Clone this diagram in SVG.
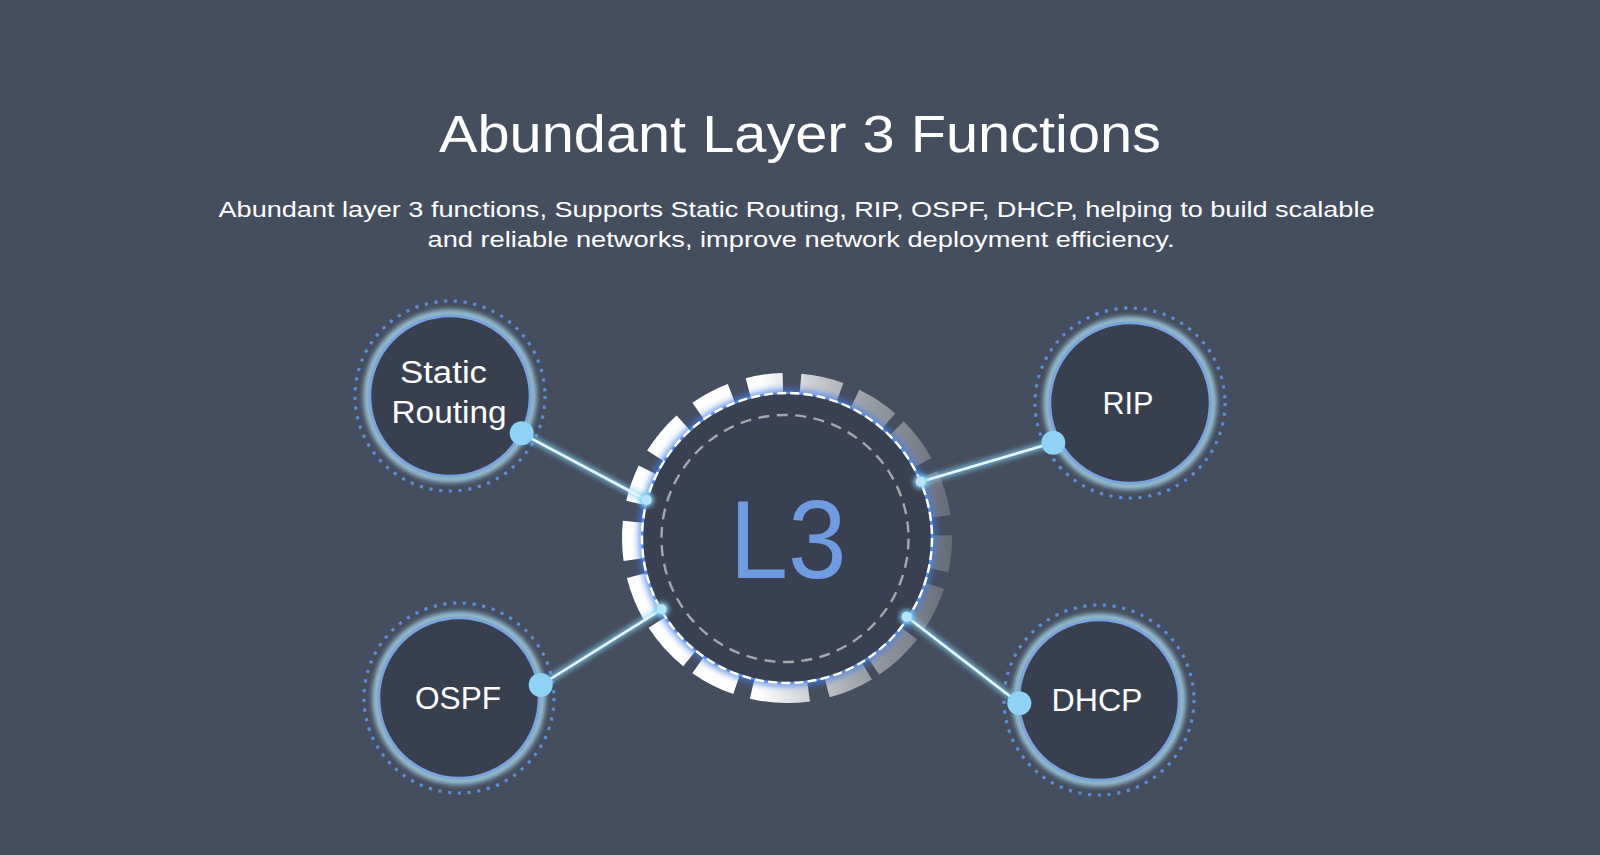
<svg xmlns="http://www.w3.org/2000/svg" width="1600" height="855" viewBox="0 0 1600 855">
<defs>
<style>
.ttl{font-family:"Liberation Sans",Arial,sans-serif;fill:#ffffff;text-anchor:middle}
.lbl{font-family:"Liberation Sans",Arial,sans-serif;fill:#ffffff;font-size:31px;text-anchor:middle}
.disc{fill:#383f4f;stroke:#7aa3e2;stroke-width:2.5}
.halo{fill:none;stroke:#ace0f2;stroke-width:7;opacity:0.85;filter:url(#blur3)}
.dots{fill:none;stroke:#5b8dd6;stroke-width:3.2;stroke-dasharray:3.2 6.6}
.seg{fill:none;stroke:url(#segGrad);stroke-width:20}
.wire{stroke:#e6f6ff;stroke-width:2.6;fill:none}
.wireglow{stroke:#7fd0f4;stroke-width:7;fill:none;opacity:0.7;filter:url(#blur3)}
.bigdot{fill:#8fd2f6}
.smalldot{fill:#b8e4f8}
</style>
<filter id="blur3" x="-50%" y="-50%" width="200%" height="200%"><feGaussianBlur stdDeviation="2.5"/></filter>
<filter id="blur4" x="-50%" y="-50%" width="200%" height="200%"><feGaussianBlur stdDeviation="3.5"/></filter>
<linearGradient id="segGrad" gradientUnits="userSpaceOnUse" x1="620" y1="0" x2="950" y2="0">
<stop offset="0" stop-color="#ffffff"/>
<stop offset="0.42" stop-color="#ffffff"/>
<stop offset="0.55" stop-color="#d6d8dc"/>
<stop offset="0.73" stop-color="#9ea2a9"/>
<stop offset="1" stop-color="#666c78"/>
</linearGradient>
</defs>
<rect width="1600" height="855" fill="#454e5f"/>

<g id="header">
<text class="ttl" x="800" y="151.5" font-size="51" textLength="722" lengthAdjust="spacingAndGlyphs">Abundant Layer 3 Functions</text>
<text class="ttl" x="796.5" y="216.5" font-size="21.5" textLength="1156" lengthAdjust="spacingAndGlyphs">Abundant layer 3 functions, Supports Static Routing, RIP, OSPF, DHCP, helping to build scalable</text>
<text class="ttl" x="801" y="247" font-size="21.5" textLength="747" lengthAdjust="spacingAndGlyphs">and reliable networks, improve network deployment efficiency.</text>
</g>

<g id="node-l3">
<g id="l3-segments">
<path class="seg" d="M748.2 387.9 A155 155 0 0 1 782.9 383"/>
<path class="seg" d="M800.5 383.6 A155 155 0 0 1 840 392.3"/>
<path class="seg" d="M855 398.7 A155 155 0 0 1 888.7 421"/>
<path class="seg" d="M896.6 428.4 A155 155 0 0 1 922.6 462.9"/>
<path class="seg" d="M928.6 475 A155 155 0 0 1 940.5 516.4"/>
<path class="seg" d="M942 535.3 A155 155 0 0 1 938.6 570.2"/>
<path class="seg" d="M934.4 585.9 A155 155 0 0 1 915.5 624.7"/>
<path class="seg" d="M909.1 633.4 A155 155 0 0 1 873.7 666.5"/>
<path class="seg" d="M866.8 670.9 A155 155 0 0 1 827.1 687.7"/>
<path class="seg" d="M808.6 691.5 A155 155 0 0 1 752.1 689"/>
<path class="seg" d="M736.5 684.6 A155 155 0 0 1 698.1 665"/>
<path class="seg" d="M689.5 658.5 A155 155 0 0 1 657 622.4"/>
<path class="seg" d="M652.8 615.5 A155 155 0 0 1 636.6 575.5"/>
<path class="seg" d="M633.5 559.6 A155 155 0 0 1 632.9 521.8"/>
<path class="seg" d="M636 503.1 A155 155 0 0 1 647.7 470"/>
<path class="seg" d="M655.6 455.9 A155 155 0 0 1 683.3 422.8"/>
<path class="seg" d="M698.1 411 A155 155 0 0 1 731.4 393.3"/>
</g>
<circle cx="787" cy="538" r="145" fill="none" stroke="#3f7fe6" stroke-width="6" filter="url(#blur4)"/>
<circle cx="787" cy="538" r="145" fill="#394051" stroke="#5d8fe4" stroke-width="2.2"/>
<circle cx="787" cy="538" r="145" fill="none" stroke="#ffffff" stroke-width="2.4" stroke-dasharray="9 4.2"/>
<circle cx="785" cy="538.5" r="123.5" fill="none" stroke="#a3a7ae" stroke-width="2.4" stroke-dasharray="11 7.5"/>
<text x="788" y="578" font-family="Liberation Sans, Arial, sans-serif" font-size="112" fill="#6f9be0" text-anchor="middle" textLength="117" lengthAdjust="spacingAndGlyphs">L3</text>
</g>

<g id="node-static-routing">
<circle class="dots" cx="450" cy="396" r="95"/>
<circle class="halo" cx="450" cy="396" r="83"/>
<circle class="disc" cx="450" cy="396" r="80"/>
<text class="lbl" x="443.5" y="383" textLength="87" lengthAdjust="spacingAndGlyphs">Static</text>
<text class="lbl" x="449" y="423" textLength="115" lengthAdjust="spacingAndGlyphs">Routing</text>
</g>

<g id="node-rip">
<circle class="dots" cx="1130" cy="403" r="95"/>
<circle class="halo" cx="1130" cy="403" r="83"/>
<circle class="disc" cx="1130" cy="403" r="80"/>
<text class="lbl" x="1128" y="414" textLength="51" lengthAdjust="spacingAndGlyphs">RIP</text>
</g>

<g id="node-ospf">
<circle class="dots" cx="459" cy="698" r="95"/>
<circle class="halo" cx="459" cy="698" r="83"/>
<circle class="disc" cx="459" cy="698" r="80"/>
<text class="lbl" x="458" y="709" textLength="86" lengthAdjust="spacingAndGlyphs">OSPF</text>
</g>

<g id="node-dhcp">
<circle class="dots" cx="1099" cy="700" r="95"/>
<circle class="halo" cx="1099" cy="700" r="83"/>
<circle class="disc" cx="1099" cy="700" r="80"/>
<text class="lbl" x="1097" y="711" textLength="91" lengthAdjust="spacingAndGlyphs">DHCP</text>
</g>

<g id="connectors">
<line class="wireglow" x1="521.7" y1="433.3" x2="646.7" y2="500"/>
<line class="wireglow" x1="1053.3" y1="442.7" x2="920.7" y2="481.7"/>
<line class="wireglow" x1="540.7" y1="685" x2="661.7" y2="609.3"/>
<line class="wireglow" x1="1019.3" y1="703.3" x2="906.7" y2="616.7"/>
<line class="wire" x1="521.7" y1="433.3" x2="646.7" y2="500"/>
<line class="wire" x1="1053.3" y1="442.7" x2="920.7" y2="481.7"/>
<line class="wire" x1="540.7" y1="685" x2="661.7" y2="609.3"/>
<line class="wire" x1="1019.3" y1="703.3" x2="906.7" y2="616.7"/>
<circle class="bigdot" cx="521.7" cy="433.3" r="12"/>
<circle class="bigdot" cx="1053.3" cy="442.7" r="12"/>
<circle class="bigdot" cx="540.7" cy="685" r="12"/>
<circle class="bigdot" cx="1019.3" cy="703.3" r="12"/>
<circle cx="646.7" cy="500" r="7" fill="#7fd0f4" filter="url(#blur3)"/>
<circle cx="920.7" cy="481.7" r="7" fill="#7fd0f4" filter="url(#blur3)"/>
<circle cx="661.7" cy="609.3" r="7" fill="#7fd0f4" filter="url(#blur3)"/>
<circle cx="906.7" cy="616.7" r="7" fill="#7fd0f4" filter="url(#blur3)"/>
<circle class="smalldot" cx="646.7" cy="500" r="5"/>
<circle class="smalldot" cx="920.7" cy="481.7" r="5"/>
<circle class="smalldot" cx="661.7" cy="609.3" r="5"/>
<circle class="smalldot" cx="906.7" cy="616.7" r="5"/>
</g>
</svg>
